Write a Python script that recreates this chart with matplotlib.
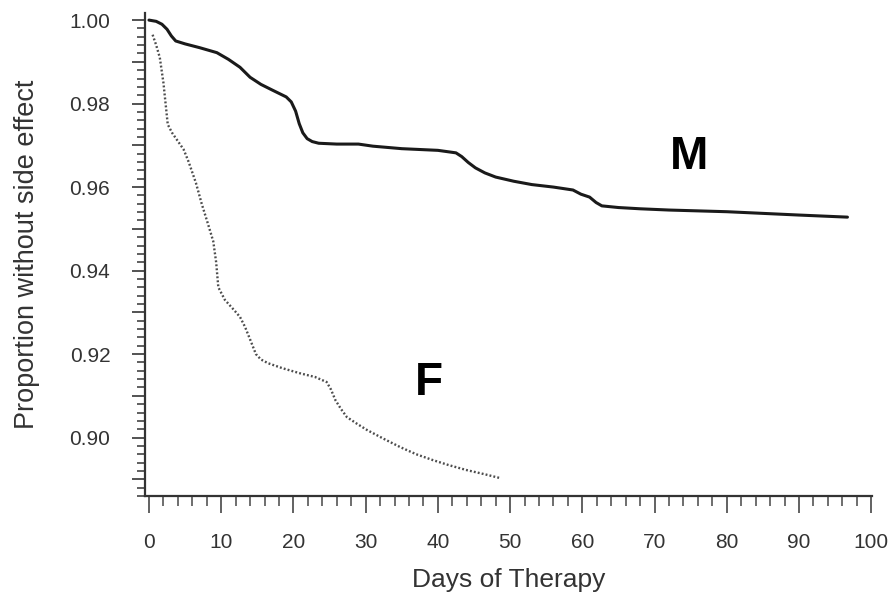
import matplotlib
matplotlib.use("Agg")
import matplotlib.pyplot as plt
import numpy as np
from matplotlib.ticker import MultipleLocator, FixedLocator

plt.rcParams['font.family'] = ['Liberation Sans', 'DejaVu Sans']

# ---- data ----
M_days = [0, 1, 1.8, 2.5, 3.1, 3.7, 5, 7, 9.4, 11, 12.6, 14, 15.5, 17, 19, 19.7,
          20.3, 20.8, 21.3, 21.9, 22.6, 23.5, 26, 29, 31, 35, 40, 42.5, 43.3,
          44.2, 45.2, 46.5, 48.0, 50.5, 53, 56, 58.7, 59.8, 61, 61.9, 62.7, 65,
          68, 72, 76, 80, 85, 90, 96.7]
M_vals = [1.000, 0.9997, 0.9990, 0.9978, 0.9962, 0.9950, 0.9943, 0.9934, 0.9922,
          0.9906, 0.9887, 0.9863, 0.9846, 0.9833, 0.9816, 0.9804, 0.9782, 0.9752,
          0.9730, 0.9716, 0.9709, 0.9705, 0.9703, 0.9703, 0.9698, 0.9692, 0.9688,
          0.9682, 0.9673, 0.9659, 0.9646, 0.9634, 0.9624, 0.9614, 0.9606, 0.9600,
          0.9593, 0.9583, 0.9576, 0.9563, 0.9555, 0.9551, 0.9548, 0.9545, 0.9543,
          0.9541, 0.9537, 0.9533, 0.9528]

F_days = [0.5, 1.0, 1.5, 2.0, 2.3, 2.6, 3.2, 4.0, 4.8, 5.5, 6.5, 7.3, 8.2, 8.9,
          9.3, 9.6, 10.5, 11.8, 12.6, 13.3, 14.0, 14.8, 15.5, 16.5, 18.5, 20.9,
          23.0, 24.6, 25.2, 25.8, 26.6, 27.4, 28.8, 30.2, 32.5, 34.8, 37.0, 39.3,
          41.5, 44.0, 46.5, 48.6]
F_vals = [0.9965, 0.9940, 0.9910, 0.9850, 0.9800, 0.9750, 0.9730, 0.9710, 0.9690,
          0.9660, 0.9610, 0.9560, 0.9510, 0.9470, 0.9420, 0.9360, 0.9330, 0.9305,
          0.9289, 0.9265, 0.9235, 0.9200, 0.9187, 0.9178, 0.9166, 0.9154, 0.9145,
          0.9133, 0.9115, 0.9090, 0.9068, 0.9049, 0.9033, 0.9018, 0.8997, 0.8977,
          0.8960, 0.8946, 0.8934, 0.8922, 0.8912, 0.8903]

x_major = list(range(0, 101, 10))
y_major_labels = [0.90, 0.92, 0.94, 0.96, 0.98, 1.00]
series_labels = ["M", "F"]

# ---- figure ----
W, H = 891, 599
fig = plt.figure(figsize=(W / 100, H / 100), dpi=100)
L, R, T, B = 145, 872, 13, 496
ax = fig.add_axes([L / W, 1 - B / H, (R - L) / W, (B - T) / H])

ax.plot(M_days, M_vals, color='#1a1a1a', lw=2.2, solid_capstyle='round',
        solid_joinstyle='round')
ax.plot(F_days, F_vals, color='#4d4d4d', lw=1.7, linestyle=(0, (0.8, 0.9)))

ax.set_xlim(-0.55, 100.1)
ax.set_ylim(0.8860, 1.0017)

for s in ['top', 'right']:
    ax.spines[s].set_visible(False)
for s in ['left', 'bottom']:
    ax.spines[s].set_color('#333333')
    ax.spines[s].set_linewidth(1.6)

ax.xaxis.set_major_locator(FixedLocator(x_major))
ax.xaxis.set_minor_locator(MultipleLocator(2))
ax.yaxis.set_minor_locator(MultipleLocator(0.002))

yt = [round(v, 2) for v in np.arange(0.89, 1.0001, 0.01)]
ax.set_yticks(yt)
ax.set_yticklabels([f"{v:.2f}" if any(abs(v - l) < 1e-9 for l in y_major_labels) else "" for v in yt])
ax.set_xticklabels([str(v) for v in x_major])

ax.tick_params(axis='x', which='major', direction='out', length=12.5, width=1.3,
               color='#555555', pad=14, labelsize=15, labelcolor='#333333')
ax.tick_params(axis='x', which='minor', direction='out', length=7.5, width=1.2,
               color='#555555')
ax.tick_params(axis='y', which='major', direction='out', length=9.5, width=1.3,
               color='#444444', pad=15.5, labelsize=15, labelcolor='#333333')
ax.tick_params(axis='y', which='minor', direction='out', length=5.5, width=1.2,
               color='#444444')

ax.set_xlabel("Days of Therapy", fontsize=19, color='#333333')
ax.set_ylabel("Proportion without side effect", fontsize=19.5, color='#333333')
ax.xaxis.set_label_coords(0.5, (B - 568) / (B - T))
ax.yaxis.set_label_coords((40 - L) / (R - L), 0.5)

ax.text(74.8, 0.9672, series_labels[0], fontsize=33, fontweight='bold',
        ha='center', va='center', color='black')
ax.text(38.7, 0.9131, series_labels[1], fontsize=33, fontweight='bold',
        ha='center', va='center', color='black')

fig.savefig("out.png", dpi=100, facecolor='white')
